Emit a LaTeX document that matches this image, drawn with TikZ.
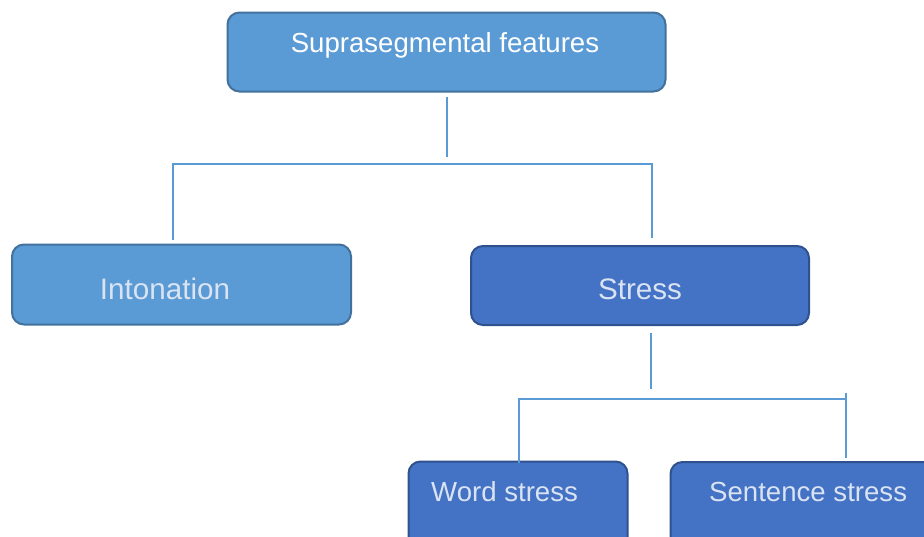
\documentclass[tikz,border=0pt]{standalone}
\usepackage{fontspec}
\setmainfont{Liberation Sans}
\definecolor{lightfill}{HTML}{5B9BD5}
\definecolor{lightedge}{HTML}{41719C}
\definecolor{darkfill}{HTML}{4472C4}
\definecolor{darkedge}{HTML}{2F528F}
\definecolor{paletext}{HTML}{D9E3F2}
\definecolor{linkcol}{HTML}{5B9BD5}
\begin{document}
\begin{tikzpicture}[x=1pt,y=-1pt,
  boxbase/.style={rectangle,rounded corners=12pt,line width=2pt,inner sep=0pt,anchor=north west},
  lightbox/.style={boxbase,fill=lightfill,draw=lightedge},
  darkbox/.style={boxbase,fill=darkfill,draw=darkedge},
  txt/.style={anchor=base,inner sep=0pt,font=\fontsize{27.6}{30}\selectfont},
  bigtxt/.style={txt,font=\fontsize{29.6}{32}\selectfont},
  link/.style={draw=linkcol,line width=1.6pt}]
\useasboundingbox (0,0) rectangle (924,536);
\clip (0,0) rectangle (924,536);
% boxes
\node[lightbox,minimum width=438pt,minimum height=79pt] (top) at (226.5,11.5) {};
\node[lightbox,minimum width=339pt,minimum height=80pt] (inton) at (11,243.5) {};
\node[darkbox,minimum width=338pt,minimum height=79pt] (stress) at (470,245) {};
\node[darkbox,minimum width=219pt,minimum height=110pt] (word) at (407.5,460.5) {};
\node[darkbox,minimum width=300pt,minimum height=110pt] (sent) at (669.5,461) {};
% texts
\node[txt,text=white] (toptext) at (445,52) {Suprasegmental features};
\node[bigtxt,text=paletext] (intontext) at (165,299) {Intonation};
\node[bigtxt,text=paletext] (stresstext) at (640,299) {Stress};
\node[txt,text=paletext,anchor=base west] (wordtext) at (431,501) {Word stress};
\node[txt,text=paletext,anchor=base west] (senttext) at (709,501.5) {Sentence stress};
% connector end points, placed just off the boxes
\coordinate (a1) at (447,97);
\coordinate (a2) at (447,157);
\coordinate (b1) at (173,240);
\coordinate (b2) at (173,164);
\coordinate (b3) at (652,164);
\coordinate (b4) at (652,238);
\coordinate (c1) at (651,333);
\coordinate (c2) at (651,389);
\coordinate (d1) at (519,463);
\coordinate (d2) at (519,399);
\coordinate (d3) at (846,399);
\coordinate (d4) at (846,393);
\coordinate (d5) at (846,458);
% connectors
\draw[link] (a1) -- (a2);
\draw[link] (b1) -- (b2) -- (b3) -- (b4);
\draw[link] (c1) -- (c2);
\draw[link] (d1) -- (d2) -- (d3);
\draw[link] (d4) -- (d5);
\end{tikzpicture}
\end{document}
